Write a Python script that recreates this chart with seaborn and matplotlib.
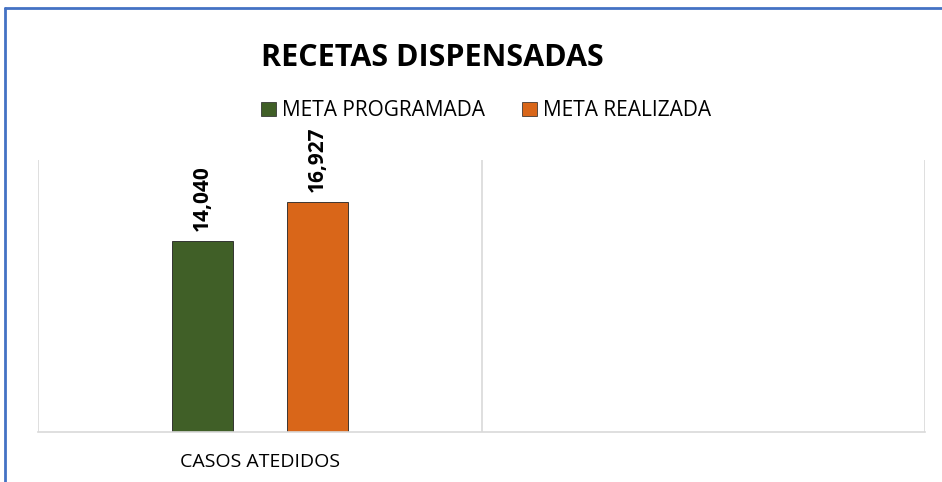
import seaborn as sns
import matplotlib.pyplot as plt
import pandas as pd
from matplotlib.lines import Line2D

categorias = ["CASOS ATEDIDOS", " "]
series = ["META PROGRAMADA", "META REALIZADA"]
valores = [14040, 16927]
colores = ["#405f27", "#d96619"]

df = pd.DataFrame({"cat": [categorias[0]] * 2, "serie": series, "valor": valores})

sns.set_style("white")
plt.rcParams['font.family'] = ['Open Sans', 'DejaVu Sans']
plt.rcParams['text.color'] = 'black'
plt.rcParams['xtick.color'] = 'black'

fig = plt.figure(figsize=(9.42, 4.82), dpi=100)
ax = fig.add_axes([0.0403, 0.1037, 0.9417, 0.5643])

sns.barplot(data=df, x="cat", y="valor", hue="serie", order=categorias, hue_order=series,
            palette=colores, saturation=1, width=0.52, gap=0.47, ax=ax, legend=False,
            edgecolor="#222222", linewidth=0.6)

ax.set_xlim(-0.5, 1.5)
ax.set_ylim(0, 20000)
ax.set_yticks([])
ax.set_xlabel("")
ax.set_ylabel("")
for s in ['top', 'right', 'left']:
    ax.spines[s].set_visible(False)
ax.spines['bottom'].set_color('#d9d9d9')
ax.spines['bottom'].set_linewidth(1.2)
for x in [-0.5, 0.5, 1.5]:
    ax.axvline(x, color='#d9d9d9', linewidth=1.2, zorder=0)

ax.tick_params(axis='x', length=0, pad=15)
ax.set_xticks([0])
ax.set_xticklabels(["CASOS ATEDIDOS"], fontsize=14)

for cont in ax.containers:
    ax.bar_label(cont, labels=[f"{v:,.0f}" for v in cont.datavalues], rotation=90,
                 padding=7, fontsize=15, fontweight='bold')

fig.text(0.459, 0.879, "RECETAS DISPENSADAS", ha='center', va='center',
         fontsize=22, fontweight='bold')

handles = [plt.Rectangle((0, 0), 1, 1, facecolor=c, edgecolor='#222222', linewidth=0.5) for c in colores]
fig.legend(handles, series, loc='center', bbox_to_anchor=(0.516, 0.77), ncol=2,
           frameon=False, fontsize=15, handlelength=0.7, handleheight=0.7,
           handletextpad=0.3, columnspacing=1.8)

fig.add_artist(Line2D([0.0055, 0.0055], [0, 0.984], color='#4472c4', linewidth=2, transform=fig.transFigure))
fig.add_artist(Line2D([0.0055, 1.0], [0.984, 0.984], color='#4472c4', linewidth=2, transform=fig.transFigure))

fig.savefig("out.png", dpi=100)
